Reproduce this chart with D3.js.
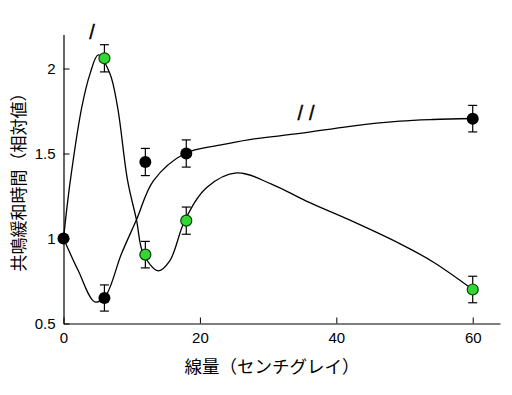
<!DOCTYPE html>
<html>
<head>
<meta charset="utf-8">
<script src="https://cdn.jsdelivr.net/npm/d3@7"></script>
<style>
  body { margin: 0; background: #fff; }
  .tick text { font-family: "Liberation Sans", Arial, sans-serif; font-size: 15px; fill: #000; }
  .title { font-family: "Noto Sans CJK JP", sans-serif; fill: #000; }
</style>
</head>
<body>
<div id="chart"></div>
<script>
// measured points (dose in cGy, relative relaxation time)
const doses = [0, 6, 12, 18, 60];
const blackValues = [1.0, 0.65, 1.45, 1.5, 1.705];
const blackErrors = [0, 0.077, 0.08, 0.08, 0.078];

const greenDoses = [6, 12, 18, 60];
const greenValues = [2.06, 0.905, 1.105, 0.70];
const greenErrors = [0.08, 0.078, 0.08, 0.078];

// fitted curves
const curveIDoses  = [0, 1.0, 2.67, 3.9, 5.1, 6.8, 7.94, 9.4, 10.7, 11.7, 13.9, 15.6, 17.8, 21, 25.4, 30.5, 35.6, 42, 49.3, 54.2, 60];
const curveIValues = [1.0, 1.34, 1.77, 1.97, 2.08, 1.97, 1.77, 1.34, 1.11, 0.91, 0.81, 0.87, 1.107, 1.30, 1.386, 1.32, 1.22, 1.108, 0.97, 0.862, 0.70];

const curveIIDoses  = [0, 2.17, 4.6, 6.08, 8.5, 10.7, 13.2, 17.8, 22.9, 27.3, 34.65, 42, 49.3, 54.2, 60];
const curveIIValues = [1.0, 0.81, 0.627, 0.657, 0.91, 1.11, 1.34, 1.5, 1.549, 1.582, 1.618, 1.66, 1.69, 1.70, 1.706];

const xTicks = [0, 20, 40, 60];
const yTicks = [0.5, 1, 1.5, 2];
const marks = ["/", "//"];
const markDoses = [3.78, 34.3];
const markValues = [2.176, 1.70];

const xTitle = "線量（センチグレイ）";
const yTitle = "共鳴緩和時間（相対値）";

const width = 512, height = 395;
const svg = d3.select('#chart').append('svg')
  .attr('width', width)
  .attr('height', height)
  .style('background', '#fff');

const x = d3.scaleLinear().domain([0, 64]).range([63.5, 500]);
const y = d3.scaleLinear().domain([0.5, 2.2]).range([323.5, 34.5]);

// axes, ticks pointing inward
svg.append('g')
  .attr('transform', `translate(0,${y(0.5)})`)
  .call(d3.axisBottom(x).tickValues(xTicks).tickSizeInner(-6).tickSizeOuter(0).tickPadding(9).tickFormat(d3.format('d')))
  .call(g => g.select('.domain').attr('stroke', '#000').attr('stroke-width', 1.2));

svg.append('g')
  .attr('transform', `translate(${x(0)},0)`)
  .call(d3.axisLeft(y).tickValues(yTicks).tickSizeInner(-6).tickSizeOuter(0).tickPadding(8).tickFormat(d => String(d)))
  .call(g => g.select('.domain').attr('stroke', '#000').attr('stroke-width', 1.2));

svg.selectAll('.tick line').attr('stroke', '#000');

// fitted curves
const line = d3.line()
  .x(d => x(d[0]))
  .y(d => y(d[1]))
  .curve(d3.curveCatmullRom.alpha(0.5));

[[curveIDoses, curveIValues], [curveIIDoses, curveIIValues]].forEach(([xs, ys]) => {
  svg.append('path')
    .datum(xs.map((d, i) => [d, ys[i]]))
    .attr('d', line)
    .attr('fill', 'none')
    .attr('stroke', '#000')
    .attr('stroke-width', 1.3);
});

// error bars
function errorBars(xs, vs, es) {
  const data = xs.map((d, i) => ({ x: d, v: vs[i], e: es[i] })).filter(d => d.e > 0);
  const g = svg.append('g').attr('stroke', '#000').attr('stroke-width', 1.2);
  g.selectAll('.bar').data(data).enter().append('line')
    .attr('x1', d => x(d.x)).attr('x2', d => x(d.x))
    .attr('y1', d => y(d.v - d.e)).attr('y2', d => y(d.v + d.e));
  g.selectAll('.capTop').data(data).enter().append('line')
    .attr('x1', d => x(d.x) - 4.5).attr('x2', d => x(d.x) + 4.5)
    .attr('y1', d => y(d.v + d.e)).attr('y2', d => y(d.v + d.e));
  g.selectAll('.capBottom').data(data).enter().append('line')
    .attr('x1', d => x(d.x) - 4.5).attr('x2', d => x(d.x) + 4.5)
    .attr('y1', d => y(d.v - d.e)).attr('y2', d => y(d.v - d.e));
}
errorBars(doses, blackValues, blackErrors);
errorBars(greenDoses, greenValues, greenErrors);

// markers
svg.append('g').selectAll('circle')
  .data(doses.map((d, i) => [d, blackValues[i]]))
  .enter().append('circle')
  .attr('cx', d => x(d[0]))
  .attr('cy', d => y(d[1]))
  .attr('r', 6)
  .attr('fill', '#000');

svg.append('g').selectAll('circle')
  .data(greenDoses.map((d, i) => [d, greenValues[i]]))
  .enter().append('circle')
  .attr('cx', d => x(d[0]))
  .attr('cy', d => y(d[1]))
  .attr('r', 5.5)
  .attr('fill', '#33d633')
  .attr('stroke', '#0b3d0b')
  .attr('stroke-width', 1.2);

// curve labels
svg.append('g').selectAll('text')
  .data(marks.map((m, i) => ({ m, x: markDoses[i], v: markValues[i] })))
  .enter().append('text')
  .attr('x', d => x(d.x))
  .attr('y', d => y(d.v))
  .attr('font-family', '"Liberation Sans", Arial, sans-serif')
  .attr('font-size', 20)
  .attr('stroke', '#000')
  .attr('stroke-width', 0.4)
  .attr('letter-spacing', 6)
  .text(d => d.m);

// axis titles
svg.append('text')
  .attr('class', 'title')
  .attr('x', 272)
  .attr('y', 373)
  .attr('text-anchor', 'middle')
  .attr('font-size', 17.5)
  .text(xTitle);

svg.append('text')
  .attr('class', 'title')
  .attr('transform', 'translate(25,178) rotate(-90)')
  .attr('text-anchor', 'middle')
  .attr('font-size', 17)
  .text(yTitle);
</script>
</body>
</html>
